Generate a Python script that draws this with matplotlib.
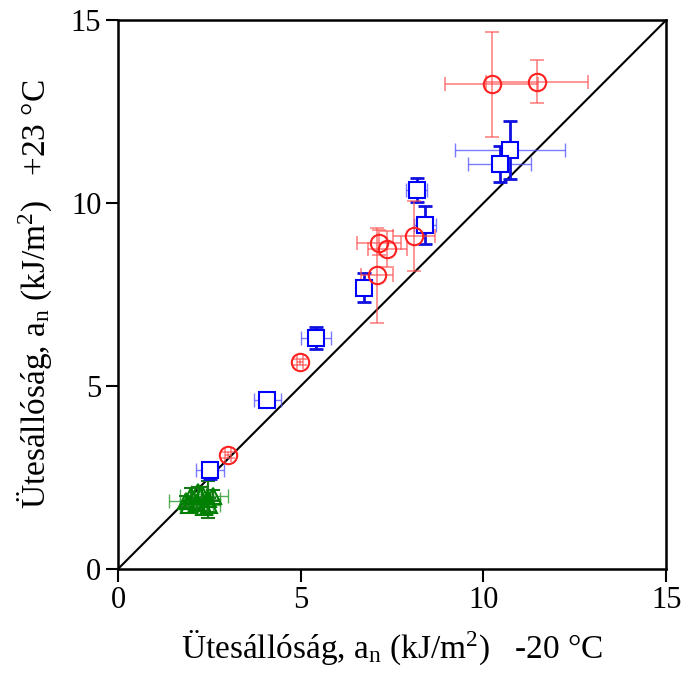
import matplotlib
matplotlib.use("Agg")
import matplotlib.pyplot as plt

plt.rcParams['font.family'] = ['Liberation Serif', 'DejaVu Serif']
plt.rcParams['mathtext.fontset'] = 'custom'
plt.rcParams['mathtext.rm'] = 'Liberation Serif'
plt.rcParams['mathtext.it'] = 'Liberation Serif'

# Red circles
red_x = [10.23, 11.46, 8.10, 7.15, 7.37, 7.08, 4.98, 3.02]
red_y = [13.24, 13.31, 9.10, 8.92, 8.74, 8.03, 5.66, 3.11]
red_xerr = [1.27, 1.40, 0.57, 0.60, 0.53, 0.44, 0.08, 0.08]
red_yerr = [1.43, 0.59, 0.96, 0.35, 0.49, 1.30, 0.08, 0.08]

# Blue squares
blue_x = [10.73, 10.44, 8.17, 8.39, 6.74, 5.42, 4.09, 2.52]
blue_y = [11.45, 11.07, 10.36, 9.40, 7.69, 6.30, 4.62, 2.70]
blue_xerr = [1.50, 0.86, 0.29, 0.30, 0.15, 0.40, 0.36, 0.39]
blue_yerr = [0.80, 0.50, 0.32, 0.51, 0.40, 0.30, 0.10, 0.23]

# Green triangles
green_x = [1.85, 2.00, 2.15, 2.30, 2.45, 2.60, 2.50, 1.95, 2.20, 2.35]
green_y = [1.85, 2.00, 1.80, 2.05, 1.90, 2.00, 1.75, 1.75, 2.10, 1.70]
green_xerr = [0.45, 0.30, 0.25, 0.30, 0.35, 0.40, 0.30, 0.25, 0.20, 0.25]
green_yerr = [0.15, 0.20, 0.15, 0.20, 0.50, 0.15, 0.20, 0.10, 0.15, 0.12]

fig = plt.figure(figsize=(6.94, 6.79), dpi=100)
ax = fig.add_axes([0.170, 0.162, 0.790, 0.8085])

ax.plot([0, 15], [0, 15], color='black', lw=1.5, zorder=1)

# green
ax.errorbar(green_x, green_y, xerr=green_xerr, fmt='none', ecolor='#2e9a2e',
            elinewidth=1.0, capsize=5, capthick=1.0, alpha=0.8, zorder=2)
ax.errorbar(green_x, green_y, yerr=green_yerr, fmt='none', ecolor='#1a7a1a',
            elinewidth=1.5, capsize=5, capthick=1.5, zorder=2)
ax.plot(green_x, green_y, linestyle='none', marker='^', markersize=12,
        markerfacecolor='none', markeredgecolor='#008000', markeredgewidth=1.5, zorder=3)

# blue
ax.errorbar(blue_x, blue_y, xerr=blue_xerr, fmt='none', ecolor='#5050ff',
            elinewidth=1.0, capsize=5, capthick=1.0, alpha=0.75, zorder=2)
ax.errorbar(blue_x, blue_y, yerr=blue_yerr, fmt='none', ecolor='#1010e0',
            elinewidth=2.0, capsize=5, capthick=2.0, zorder=2)
ax.plot(blue_x, blue_y, linestyle='none', marker='s', markersize=11,
        markerfacecolor='white', markeredgecolor='#0000ff', markeredgewidth=1.5, zorder=3)

# red
ax.errorbar(red_x, red_y, xerr=red_xerr, yerr=red_yerr, fmt='none', ecolor='#ff5050',
            elinewidth=1.2, capsize=5, capthick=1.2, alpha=0.7, zorder=2)
ax.plot(red_x, red_y, linestyle='none', marker='o', markersize=12.5,
        markerfacecolor='none', markeredgecolor='#ff2020', markeredgewidth=1.5, zorder=4)

ax.set_xlim(0, 15)
ax.set_ylim(0, 15)
ax.set_xticks([0, 5, 10, 15])
ax.set_yticks([0, 5, 10, 15])
ax.tick_params(direction='out', length=9, width=1.5, labelsize=22, pad=3)
for s in ax.spines.values():
    s.set_linewidth(1.8)

ax.set_xlabel(r'Ütesállóság, a$_\mathrm{n}$ (kJ/m$^\mathrm{2}$)   -20 °C', fontsize=24, labelpad=10)
ax.set_ylabel(r'Ütesállóság, a$_\mathrm{n}$ (kJ/m$^\mathrm{2}$)   +23 °C', fontsize=24, labelpad=12)

fig.savefig('out.png', dpi=100)
